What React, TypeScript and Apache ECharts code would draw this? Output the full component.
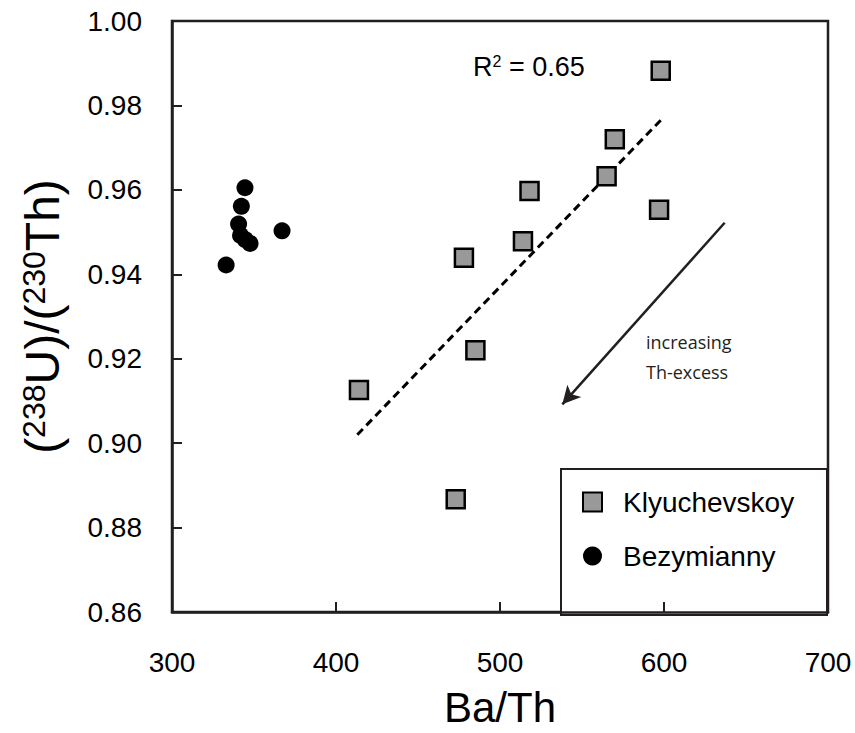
import React, { useEffect, useRef } from "react";
import * as echarts from "echarts";

// Klyuchevskoy samples: Ba/Th vs (238U)/(230Th)
const klyuchevskoyBaTh = [414, 473, 478, 485, 514, 518, 565, 570, 597, 598];
const klyuchevskoyUTh = [0.9126, 0.8867, 0.9439, 0.922, 0.9478, 0.9597, 0.9632, 0.972, 0.9553, 0.9882];

// Bezymianny samples
const bezymiannyBaTh = [333, 340.6, 341.8, 342.3, 344.5, 344.7, 347.6, 367.1];
const bezymiannyUTh = [0.9422, 0.9519, 0.9492, 0.9561, 0.9605, 0.9482, 0.9473, 0.9503];

// Regression through the Klyuchevskoy samples (end points)
const trendBaTh = [413, 598];
const trendUTh = [0.902, 0.9765];
const trendR2 = "0.65";

// Direction of increasing Th-excess
const arrowBaTh = [637, 538];
const arrowUTh = [0.9522, 0.9092];

const xTicks = [300, 400, 500, 600, 700];
const yTicks = [0.86, 0.88, 0.9, 0.92, 0.94, 0.96, 0.98, 1.0];

const FONT = "Liberation Sans, Arial, Helvetica, sans-serif";
const INK = "#231f20";

export default function App() {
  const ref = useRef<HTMLDivElement>(null);

  useEffect(() => {
    if (!ref.current) return;
    const chart = echarts.init(ref.current, undefined, { renderer: "svg" });

    const pairs = (xs: number[], ys: number[]) => xs.map((x, i) => [x, ys[i]]);

    chart.setOption({
      animation: false,
      backgroundColor: "#ffffff",
      textStyle: { fontFamily: FONT },
      grid: {
        left: 172,
        right: 27,
        top: 21,
        bottom: 118,
        show: true,
        borderColor: INK,
        borderWidth: 2.5,
      },
      xAxis: {
        type: "value",
        min: xTicks[0],
        max: xTicks[xTicks.length - 1],
        interval: 100,
        name: "Ba/Th",
        nameLocation: "middle",
        nameGap: 74,
        nameTextStyle: { fontSize: 42, color: "#000", fontFamily: FONT },
        axisLine: { show: true, lineStyle: { color: INK, width: 2.5 } },
        axisTick: { show: true, inside: true, length: 10, lineStyle: { color: INK, width: 2 } },
        axisLabel: { fontSize: 28, color: "#000", margin: 36, fontFamily: FONT },
        splitLine: { show: false },
      },
      yAxis: {
        type: "value",
        min: yTicks[0],
        max: yTicks[yTicks.length - 1],
        interval: 0.02,
        name: "({sup|238}U)/({sup|230}Th)",
        nameLocation: "middle",
        nameRotate: 90,
        nameGap: 106,
        nameTextStyle: {
          fontSize: 48,
          color: "#000",
          fontFamily: FONT,
          rich: {
            sup: { fontSize: 32, color: "#000", fontFamily: FONT, verticalAlign: "top" },
          },
        },
        axisLine: { show: true, lineStyle: { color: INK, width: 2.5 } },
        axisTick: { show: true, inside: true, length: 10, lineStyle: { color: INK, width: 2 } },
        axisLabel: {
          fontSize: 28,
          color: "#000",
          margin: 30,
          fontFamily: FONT,
          formatter: (v: number) => v.toFixed(2),
        },
        splitLine: { show: false },
      },
      legend: {
        orient: "vertical",
        left: 582,
        top: 488,
        padding: 0,
        itemGap: 26,
        itemWidth: 19,
        itemHeight: 19,
        data: ["Klyuchevskoy", "Bezymianny"],
        textStyle: { fontSize: 28, color: "#000", fontFamily: FONT, padding: [0, 0, 0, 16] },
      },
      graphic: [
        {
          type: "rect",
          shape: { x: 561, y: 469, width: 266, height: 146 },
          style: { fill: "#ffffff", stroke: INK, lineWidth: 2 },
          z: 0,
          silent: true,
        },
        {
          type: "text",
          left: 473,
          top: 53,
          style: {
            text: "R{sup|2} = " + trendR2,
            fontSize: 27,
            fontFamily: FONT,
            fill: "#000",
            rich: { sup: { fontSize: 16, fontFamily: FONT, fill: "#000", verticalAlign: "top" } },
          },
          z: 10,
        },
        {
          type: "text",
          left: 646,
          top: 327,
          style: {
            text: "increasing\nTh-excess",
            fontSize: 18,
            lineHeight: 30,
            fontFamily: "Open Sans, Noto Sans, sans-serif",
            fill: INK,
          },
          z: 10,
        },
      ],
      series: [
        {
          name: "Klyuchevskoy",
          type: "scatter",
          symbol: "rect",
          symbolSize: 18,
          z: 5,
          itemStyle: { color: "#999999", borderColor: "#000", borderWidth: 2.5, opacity: 1 },
          data: pairs(klyuchevskoyBaTh, klyuchevskoyUTh),
        },
        {
          name: "Bezymianny",
          type: "scatter",
          symbol: "circle",
          symbolSize: 17,
          z: 5,
          itemStyle: { color: "#000", opacity: 1 },
          data: pairs(bezymiannyBaTh, bezymiannyUTh),
        },
        {
          name: "trend",
          type: "line",
          showSymbol: false,
          symbol: "none",
          z: 4,
          lineStyle: { color: "#000", width: 3, type: [8, 5] },
          data: pairs(trendBaTh, trendUTh),
        },
        {
          name: "arrow",
          type: "line",
          data: [],
          markLine: {
            silent: true,
            symbol: ["none", "arrow"],
            symbolSize: [14, 18],
            label: { show: false },
            lineStyle: { color: INK, width: 2.5, type: "solid" },
            data: [
              [
                { coord: [arrowBaTh[0], arrowUTh[0]] },
                { coord: [arrowBaTh[1], arrowUTh[1]] },
              ],
            ],
          },
        },
      ],
    });

    return () => chart.dispose();
  }, []);

  return (
    <div
      ref={ref}
      style={{ position: "absolute", left: 0, top: 0, width: 855, height: 733 }}
    />
  );
}
